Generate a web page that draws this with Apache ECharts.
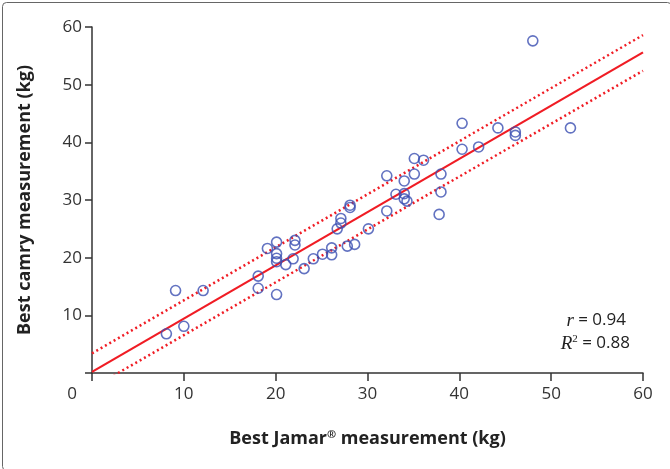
<!DOCTYPE html>
<html>
<head>
<meta charset="utf-8">
<script src="https://cdn.jsdelivr.net/npm/echarts@6/dist/echarts.min.js"></script>
<style>html,body{margin:0;padding:0;background:#fff}#c{width:670px;height:469px}</style>
</head>
<body>
<div id="c"></div>
<script>
// Best Jamar (x) vs Best camry (y), kg
const jamar = [8.1,10.0,9.1,12.1,18.1,18.1,20.1,19.1,20.1,20.1,20.1,20.1,21.1,21.9,22.1,22.1,23.1,24.1,25.1,26.1,26.1,26.7,27.1,27.1,27.8,28.1,28.1,28.6,30.1,32.1,34.0,35.1,38.0,38.0,33.1,34.0,34.0,34.3,32.1,37.8,35.1,36.1,40.3,40.3,42.1,44.2,46.1,46.1,48.0,52.1];
const camry = [6.8,8.1,14.3,14.3,16.8,14.7,13.6,21.6,22.7,20.7,19.9,19.3,18.8,19.8,23.0,22.2,18.1,19.8,20.6,21.7,20.5,25.0,26.8,26.0,22.0,29.1,28.7,22.3,25.0,34.2,33.3,34.5,34.5,31.4,31.0,31.1,30.2,29.8,28.1,27.5,37.2,36.9,43.3,38.8,39.2,42.5,41.8,41.2,57.6,42.5];
// Regression line and confidence band end points (x, y)
const fitLine = [[0, 0.2], [60, 55.6]];
const upperBand = [[0, 3.4], [60, 58.6]];
const lowerBand = [[0, -2.6], [60, 52.4]];
const xTicks = [0, 10, 20, 30, 40, 50, 60];
const yTicks = [0, 10, 20, 30, 40, 50, 60];
const stats = { r: '0.94', r2: '0.88' };

const points = jamar.map((x, i) => [x, camry[i]]);
const FONT = '"Open Sans", sans-serif';
const chart = echarts.init(document.getElementById('c'), null, { renderer: 'canvas' });
const axisColor = '#333';
const titleStyle = {
  fontFamily: FONT, fontWeight: 'bold', fontSize: 18, color: '#222',
  rich: { s: { fontFamily: FONT, fontWeight: 'bold', fontSize: 11, color: '#222', verticalAlign: 'top', padding: [0, 0, 8, 0] } }
};
chart.setOption({
  animation: false,
  backgroundColor: '#fff',
  grid: { left: 92, right: 27, top: 27, bottom: 96, containLabel: false },
  xAxis: {
    type: 'value', min: xTicks[0], max: xTicks[xTicks.length - 1], interval: 10,
    name: 'Best Jamar{s|®} measurement (kg)', nameLocation: 'middle', nameGap: 56,
    nameTextStyle: titleStyle,
    axisLine: { show: true, onZero: false, lineStyle: { color: axisColor, width: 1.5 } },
    axisTick: { show: true, inside: false, length: 8, lineStyle: { color: axisColor, width: 1.5 } },
    axisLabel: {
      fontFamily: FONT, fontSize: 17, color: '#333', margin: 13,
      formatter: v => v === 0 ? '{z|0}' : String(v),
      rich: { z: { fontFamily: FONT, fontSize: 17, color: '#333', padding: [0, 40, 0, 0] } }
    },
    splitLine: { show: false }
  },
  yAxis: {
    type: 'value', min: yTicks[0], max: yTicks[yTicks.length - 1], interval: 10,
    name: 'Best camry measurement (kg)', nameLocation: 'middle', nameGap: 58,
    nameTextStyle: titleStyle,
    axisLine: { show: true, onZero: false, lineStyle: { color: axisColor, width: 1.5 } },
    axisTick: { show: true, inside: false, length: 7, lineStyle: { color: axisColor, width: 1.5 } },
    axisLabel: {
      fontFamily: FONT, fontSize: 17, color: '#333', margin: 10,
      formatter: v => v === 0 ? '' : String(v)
    },
    splitLine: { show: false }
  },
  series: [
    {
      type: 'line', data: upperBand, symbol: 'none', clip: true, z: 2,
      lineStyle: { color: '#f01c24', width: 2.5, type: [2, 3] }
    },
    {
      type: 'line', data: lowerBand, symbol: 'none', clip: true, z: 2,
      lineStyle: { color: '#f01c24', width: 2.5, type: [2, 3] }
    },
    {
      type: 'line', data: fitLine, symbol: 'none', clip: true, z: 2,
      lineStyle: { color: '#f01c24', width: 2.2 }
    },
    {
      type: 'scatter', data: points, symbol: 'circle', symbolSize: 10, z: 3,
      itemStyle: { color: 'rgba(255,255,255,0)', borderColor: '#3b4fb2', borderWidth: 1.6 }
    }
  ],
  graphic: [
    {
      type: 'rect', left: 0, top: 0, z: 0, silent: true,
      shape: { x: 0.5, y: 0.5, width: 669, height: 468, r: 4 },
      style: { fill: 'none', stroke: '#666', lineWidth: 1 }
    },
    {
      type: 'text', right: 44, top: 311, z: 10,
      style: {
        text: '{i|r} = ' + stats.r,
        align: 'right', fontFamily: FONT, fontSize: 17, fill: '#222',
        rich: { i: { fontFamily: '"Liberation Serif", serif', fontStyle: 'italic', fontSize: 19, fill: '#222' } }
      }
    },
    {
      type: 'text', right: 40, top: 334, z: 10,
      style: {
        text: '{i|R}{s|2} = ' + stats.r2,
        align: 'right', fontFamily: FONT, fontSize: 17, fill: '#222',
        rich: {
          i: { fontFamily: '"Liberation Serif", serif', fontStyle: 'italic', fontSize: 19, fill: '#222' },
          s: { fontFamily: '"Liberation Serif", serif', fontSize: 11, fill: '#222', verticalAlign: 'top', padding: [0, 0, 8, 0] }
        }
      }
    }
  ]
});
</script>
</body>
</html>
